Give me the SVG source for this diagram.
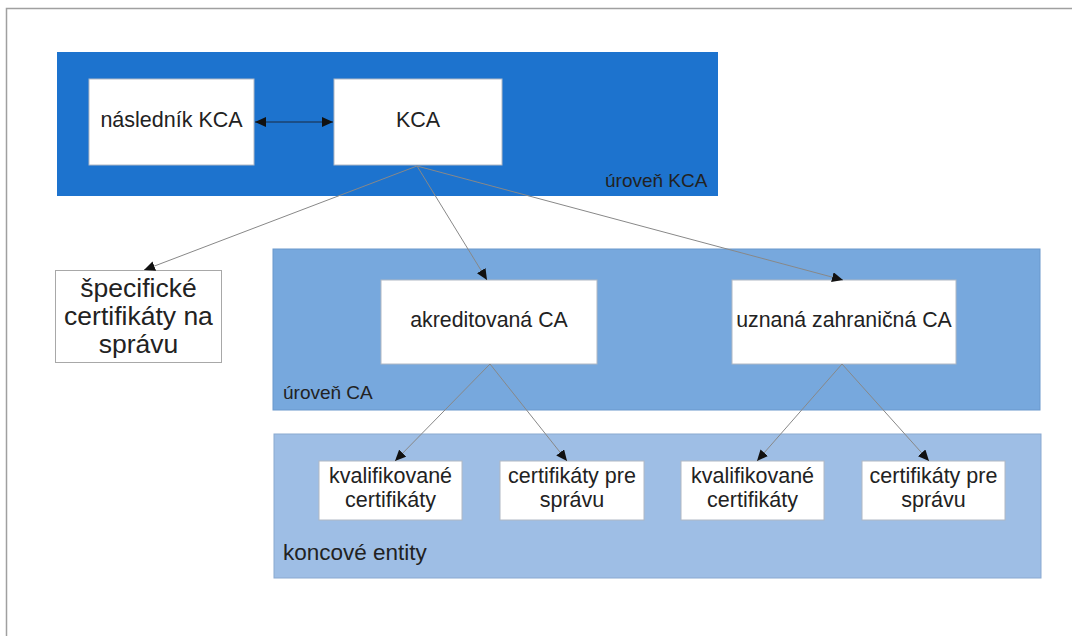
<svg xmlns="http://www.w3.org/2000/svg" width="1072" height="636" viewBox="0 0 1072 636">
<style>
text{font-family:"Liberation Sans",Arial,sans-serif;fill:#222;}
.box{fill:#fff;stroke:#b0b8c4;stroke-width:1;}
.c{text-anchor:middle;}
.conn{stroke:#888;stroke-width:1;fill:none;}
.sm{font-size:21.5px;}
</style>
<defs>
<marker id="ah" markerUnits="userSpaceOnUse" markerWidth="12" markerHeight="10" refX="11" refY="5" orient="auto-start-reverse">
<path d="M0,0 L11,5 L0,10 z" fill="#111"/>
</marker>
</defs>
<rect x="0" y="0" width="1072" height="636" fill="#fff"/>
<path d="M6.5,636 V8.5 H1072" fill="none" stroke="#a0a0a0" stroke-width="1.5"/>

<g id="panel-kca">
<rect x="57" y="52" width="661" height="144" fill="#1d73ce"/>
<text x="605" y="187" font-size="19">úroveň KCA</text>
</g>
<g id="panel-ca">
<rect x="273" y="249" width="767" height="161" fill="#77a8dd" stroke="#6a98cc" stroke-width="1"/>
<text x="283" y="399" font-size="19">úroveň CA</text>
</g>
<g id="panel-end">
<rect x="274" y="434" width="767" height="144" fill="#9ebee5" stroke="#8aa9d0" stroke-width="1"/>
<text x="283" y="560" font-size="22.5">koncové entity</text>
</g>

<g id="node-naslednik">
<rect class="box" x="89" y="79" width="165" height="86" stroke="none"/>
<text class="c" x="171.5" y="127" font-size="21.5">následník KCA</text>
</g>
<g id="node-kca">
<rect class="box" x="334" y="79" width="168" height="86" stroke="none"/>
<text class="c" x="418" y="127" font-size="21.5">KCA</text>
</g>
<g id="node-specificke">
<rect x="55.5" y="270.5" width="166" height="92" fill="#fff" stroke="#a8a8a8" stroke-width="1"/>
<text class="c" x="138.5" y="297" font-size="26.5">špecifické</text>
<text class="c" x="138.5" y="325" font-size="26.5">certifikáty na</text>
<text class="c" x="138.5" y="353" font-size="26.5">správu</text>
</g>
<g id="node-akreditovana">
<rect class="box" x="381" y="280" width="216" height="84"/>
<text class="c" x="489" y="327" font-size="21.3">akreditovaná CA</text>
</g>
<g id="node-uznana">
<rect class="box" x="732" y="280" width="224" height="84"/>
<text class="c" x="844" y="327" font-size="21.3">uznaná zahraničná CA</text>
</g>
<g id="node-kval1">
<rect class="box" x="319" y="461" width="143" height="59"/>
<text class="c sm" x="390.5" y="483">kvalifikované</text>
<text class="c sm" x="390.5" y="507">certifikáty</text>
</g>
<g id="node-spr1">
<rect class="box" x="500" y="461" width="144" height="59"/>
<text class="c sm" x="572" y="483">certifikáty pre</text>
<text class="c sm" x="572" y="507">správu</text>
</g>
<g id="node-kval2">
<rect class="box" x="681" y="461" width="143" height="59"/>
<text class="c sm" x="752.5" y="483">kvalifikované</text>
<text class="c sm" x="752.5" y="507">certifikáty</text>
</g>
<g id="node-spr2">
<rect class="box" x="862" y="461" width="143" height="59"/>
<text class="c sm" x="933.5" y="483">certifikáty pre</text>
<text class="c sm" x="933.5" y="507">správu</text>
</g>

<g id="connectors">
<line x1="255" y1="122" x2="333" y2="122" stroke="#1a2a40" stroke-width="1.2" marker-start="url(#ah)" marker-end="url(#ah)"/>
<line class="conn" x1="417" y1="166" x2="144" y2="270" marker-end="url(#ah)"/>
<line class="conn" x1="417" y1="166" x2="487" y2="280" marker-end="url(#ah)"/>
<line class="conn" x1="417" y1="166" x2="843" y2="280" marker-end="url(#ah)"/>
<line class="conn" x1="490" y1="364" x2="395" y2="461" marker-end="url(#ah)"/>
<line class="conn" x1="490" y1="364" x2="567" y2="461" marker-end="url(#ah)"/>
<line class="conn" x1="842" y1="364" x2="757" y2="461" marker-end="url(#ah)"/>
<line class="conn" x1="842" y1="364" x2="929" y2="461" marker-end="url(#ah)"/>
</g>
</svg>
